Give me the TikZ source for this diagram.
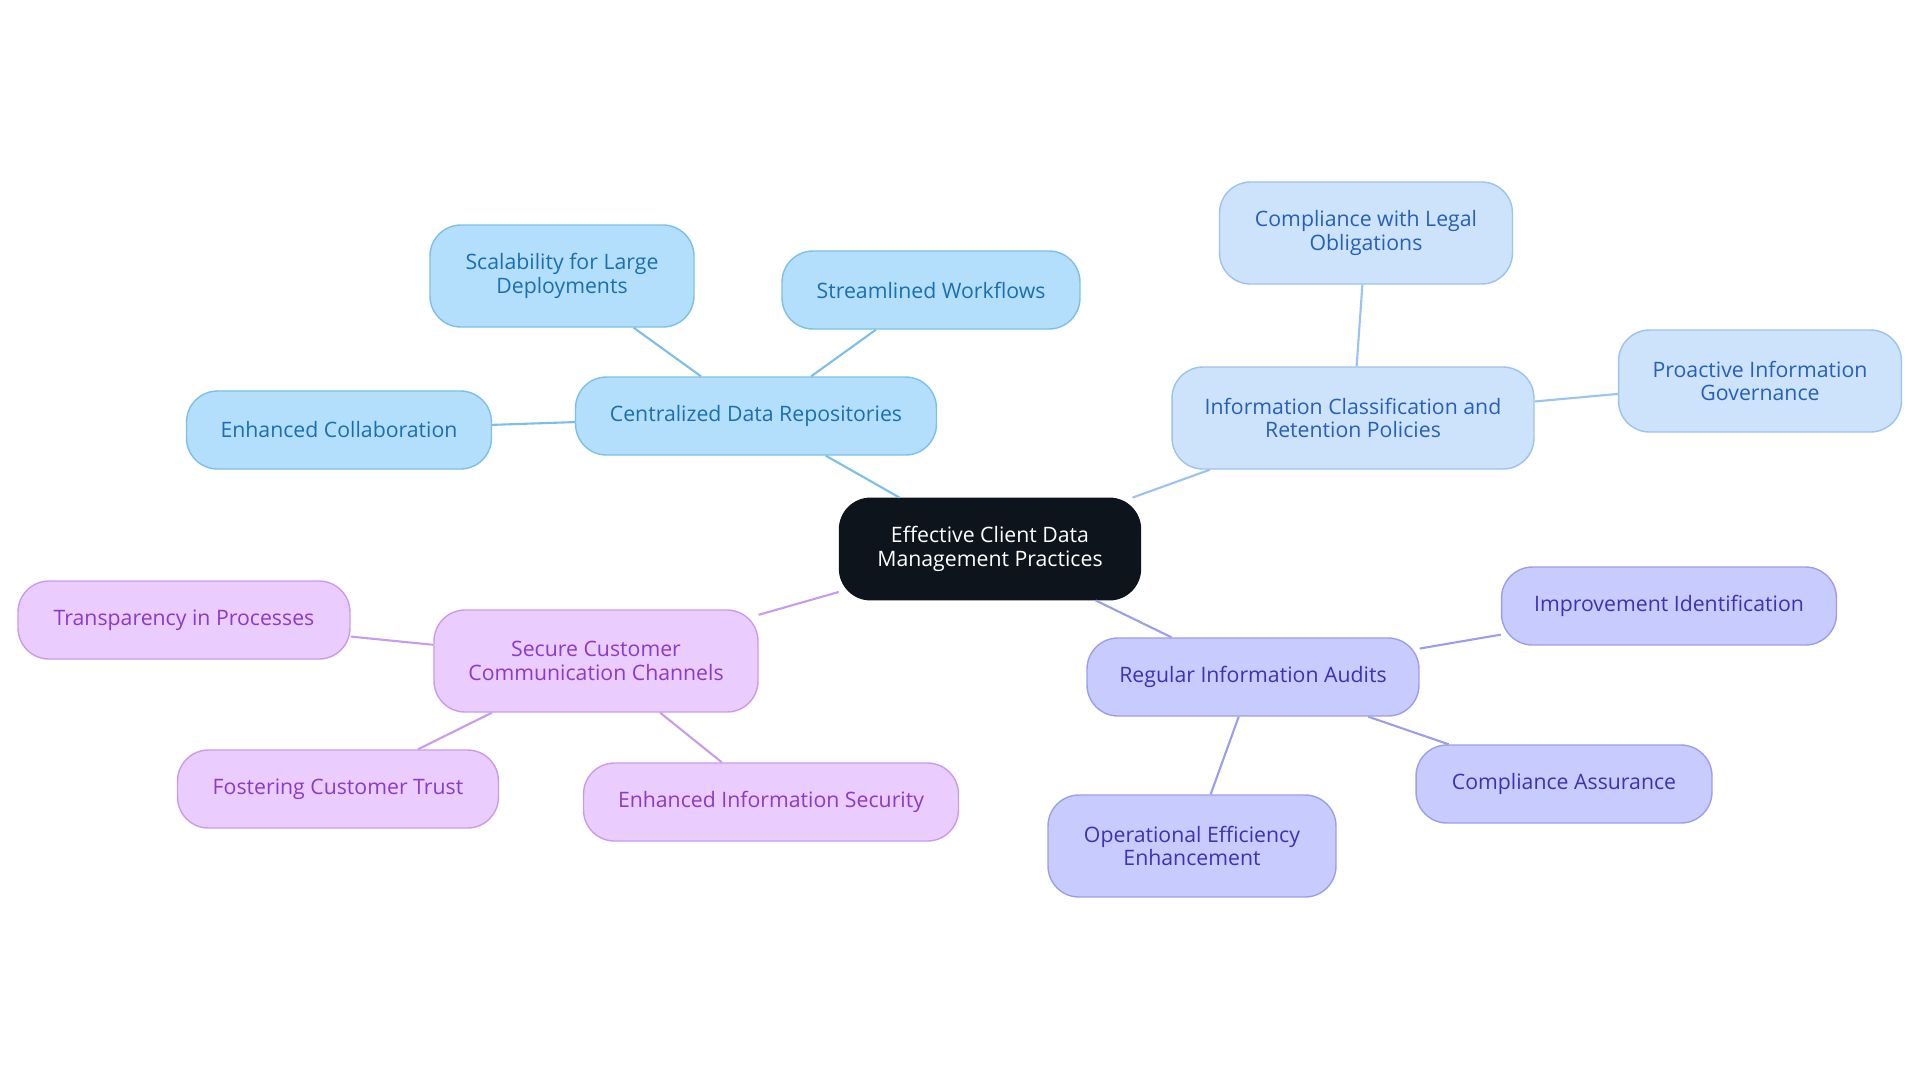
\documentclass[tikz,border=0pt]{standalone}
\usepackage{fontspec}
\setmainfont{Open Sans}
\usepackage{xcolor}
\usepackage{tikz}

\definecolor{rootfill}{HTML}{0D141C}
\definecolor{skyfill}{HTML}{B3DFFD}
\definecolor{skyline}{HTML}{7DBFE8}
\definecolor{skytext}{HTML}{1A6FB0}
\definecolor{palefill}{HTML}{CDE3FB}
\definecolor{paleline}{HTML}{9CC2EE}
\definecolor{paletext}{HTML}{2660B8}
\definecolor{lilafill}{HTML}{EACCFE}
\definecolor{lilaline}{HTML}{C99BEB}
\definecolor{lilatext}{HTML}{8B3BC7}
\definecolor{indfill}{HTML}{C7CBFE}
\definecolor{indline}{HTML}{9C9EEA}
\definecolor{indtext}{HTML}{3A34B5}

\begin{document}
\begin{tikzpicture}[
  x=0.02cm, y=-0.02cm,
  box/.style={rectangle, rounded corners=0.62cm, draw, line width=0.8pt, align=center,
    font=\fontsize{12.1}{13.3}\selectfont, inner sep=0pt, minimum height=1.56cm},
  tall/.style={minimum height=2.04cm},
  root/.style={box, fill=rootfill, draw=rootfill, text=white, minimum width=6.02cm, minimum height=2.03cm},
  sky/.style={box, fill=skyfill, draw=skyline, text=skytext},
  pale/.style={box, fill=palefill, draw=paleline, text=paletext},
  lila/.style={box, fill=lilafill, draw=lilaline, text=lilatext},
  ind/.style={box, fill=indfill, draw=indline, text=indtext},
  link/.style={line width=1.2pt}
]
\useasboundingbox (0,0) rectangle (1920,1083);

% Root
\node[root] (root) at (990,549) {Effective Client Data\\Management Practices};

% Branches
\node[sky, minimum width=7.22cm] (repo) at (756,416) {Centralized Data Repositories};
\node[pale, tall, minimum width=7.24cm] (policy) at (1353,418) {Information Classification and\\Retention Policies};
\node[ind, minimum width=6.64cm] (audit) at (1253,677) {Regular Information Audits};
\node[lila, tall, minimum width=6.48cm] (secure) at (596,661) {Secure Customer\\Communication Channels};

% Leaves
\node[sky, tall, minimum width=5.28cm] (scale) at (562,276) {Scalability for Large\\Deployments};
\node[sky, minimum width=5.96cm] (flow) at (931,290) {Streamlined Workflows};
\node[sky, minimum width=6.10cm] (collab) at (339,430) {Enhanced Collaboration};

\node[pale, tall, minimum width=5.86cm] (legal) at (1366,233) {Compliance with Legal\\Obligations};
\node[pale, tall, minimum width=5.66cm] (gov) at (1760,381) {Proactive Information\\Governance};

\node[ind, minimum width=6.70cm] (improve) at (1669,606) {Improvement Identification};
\node[ind, minimum width=5.92cm] (assure) at (1564,784) {Compliance Assurance};
\node[ind, tall, minimum width=5.76cm] (effic) at (1192,846) {Operational Efficiency\\Enhancement};

\node[lila, minimum width=6.64cm] (transp) at (184,620) {Transparency in Processes};
\node[lila, minimum width=6.42cm] (trust) at (338,789) {Fostering Customer Trust};
\node[lila, minimum width=7.50cm] (infosec) at (771,802) {Enhanced Information Security};

% Links
\draw[link, skyline] (root) -- (repo);
\draw[link, skyline] (repo) -- (scale);
\draw[link, skyline] (repo) -- (flow);
\draw[link, skyline] (repo) -- (collab);
\draw[link, paleline] (root) -- (policy);
\draw[link, paleline] (policy) -- (legal);
\draw[link, paleline] (policy) -- (gov);
\draw[link, indline] (root) -- (audit);
\draw[link, indline] (audit) -- (improve);
\draw[link, indline] (audit) -- (assure);
\draw[link, indline] (audit) -- (effic);
\draw[link, lilaline] (root) -- (secure);
\draw[link, lilaline] (secure) -- (transp);
\draw[link, lilaline] (secure) -- (trust);
\draw[link, lilaline] (secure) -- (infosec);

\end{tikzpicture}
\end{document}
